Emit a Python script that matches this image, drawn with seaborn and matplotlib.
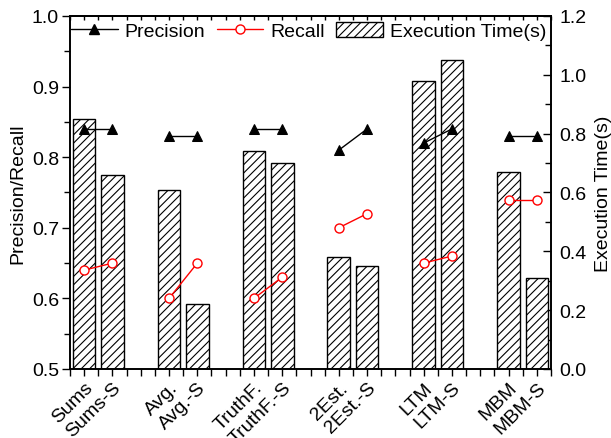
import matplotlib
matplotlib.use('Agg')
import matplotlib.pyplot as plt
import matplotlib.ticker as ticker
import matplotlib.transforms as mtransforms
from matplotlib.lines import Line2D
from matplotlib.patches import Patch
import numpy as np
import pandas as pd
import seaborn as sns

metodos = ["Sums", "Sums-S", "Avg.", "Avg.-S", "TruthF.", "TruthF.-S",
           "2Est.", "2Est.-S", "LTM", "LTM-S", "MBM", "MBM-S"]
precision = [0.84, 0.84, 0.83, 0.83, 0.84, 0.84, 0.81, 0.84, 0.82, 0.84, 0.83, 0.83]
recall = [0.64, 0.65, 0.60, 0.65, 0.60, 0.63, 0.70, 0.72, 0.65, 0.66, 0.74, 0.74]
tempo = [0.85, 0.66, 0.61, 0.22, 0.74, 0.70, 0.38, 0.35, 0.98, 1.05, 0.67, 0.31]

sns.set_style('ticks')
plt.rcParams['font.family'] = ['Liberation Sans', 'DejaVu Sans']
plt.rcParams['hatch.linewidth'] = 0.8
plt.rcParams['axes.linewidth'] = 1.2
for k in ['text.color', 'axes.labelcolor', 'xtick.color', 'ytick.color',
          'axes.edgecolor']:
    plt.rcParams[k] = 'black'

df = pd.DataFrame({'metodo': metodos, 'precision': precision,
                   'recall': recall, 'tempo': tempo})
# cada par (metodo, metodo-S) fica junto, com um espaco entre os pares
df['grupo'] = [i // 2 for i in range(len(df))]
df['pos'] = [3 * (i // 2) + i % 2 for i in range(len(df))]

fig = plt.figure(figsize=(6.11, 4.39), dpi=100)
ax = fig.add_axes([0.1146, 0.1572, 0.7872, 0.8041])
ax2 = ax.twinx()

sns.barplot(data=df, x='pos', y='tempo', native_scale=True, ax=ax2,
            color='white', saturation=1, edgecolor='black', linewidth=1,
            hatch='////', width=0.8, errorbar=None)

sns.lineplot(data=df, x='pos', y='precision', units='grupo', estimator=None,
             color='black', marker='^', markersize=7, markeredgecolor='black',
             markerfacecolor='black', linewidth=1, ax=ax, legend=False)
sns.lineplot(data=df, x='pos', y='recall', units='grupo', estimator=None,
             color='red', marker='o', markersize=6.5, markeredgecolor='red',
             markerfacecolor='white', markeredgewidth=1, linewidth=1,
             ax=ax, legend=False)

# linhas por cima das barras
ax.set_zorder(ax2.get_zorder() + 1)
ax.patch.set_visible(False)

ax.set_xlim(-0.5, 16.5)
ax.set_ylim(0.5, 1.0)
ax2.set_ylim(0, 1.2)

ticks_x = np.arange(-0.5, 16.6, 0.5)
rotulos = {p: m for p, m in zip(df.pos, df.metodo)}
labels_x = [rotulos.get(t, '') for t in ticks_x]
ax.set_xticks(ticks_x)
ax.set_xticklabels(labels_x, rotation=45, ha='right', va='center',
                   rotation_mode='anchor', fontsize=14)
ax.set_xlabel('')
ax2.set_xlabel('')

ax.yaxis.set_major_locator(ticker.MultipleLocator(0.1))
ax.yaxis.set_minor_locator(ticker.MultipleLocator(0.05))
ax2.yaxis.set_major_locator(ticker.MultipleLocator(0.2))
ax2.yaxis.set_minor_locator(ticker.MultipleLocator(0.1))
ax.yaxis.set_major_formatter(ticker.StrMethodFormatter('{x:.1f}'))
ax2.yaxis.set_major_formatter(ticker.StrMethodFormatter('{x:.1f}'))

ax.tick_params(axis='x', which='both', direction='out', length=5, width=1,
               pad=5, labelsize=14)
ax.tick_params(axis='y', which='major', direction='out', length=6, width=1,
               labelsize=14, pad=2)
ax.tick_params(axis='y', which='minor', direction='out', length=4, width=1)
ax2.tick_params(axis='y', which='major', direction='in', length=6, width=1,
                labelsize=14, pad=6)
ax2.tick_params(axis='y', which='minor', direction='in', length=4, width=1)

topo = ax.secondary_xaxis('top')
topo.set_xticks(ticks_x)
topo.tick_params(axis='x', direction='in', length=3, width=1, labeltop=False)

ax.set_ylabel('Precision/Recall', fontsize=14, labelpad=4)
ax2.set_ylabel('Execution Time(s)', fontsize=14, labelpad=6)

handles = [
    Line2D([], [], color='black', marker='^', markersize=7, linewidth=1),
    Line2D([], [], color='red', marker='o', markersize=6.5, linewidth=1,
           markerfacecolor='white', markeredgecolor='red'),
    Patch(facecolor='white', edgecolor='black', hatch='////', linewidth=1),
]
ax.legend(handles, ['Precision', 'Recall', 'Execution Time(s)'],
          loc='upper left', bbox_to_anchor=(-0.01, 1.0), ncol=3,
          frameon=False, fontsize=14, handlelength=2.4, handleheight=0.8,
          handletextpad=0.35, columnspacing=0.6, borderaxespad=0,
          borderpad=0.3)

# desloca um pouco os rotulos do eixo x para a direita, como no original
# (feito depois do tick_params, que recria as transformacoes)
desloc = mtransforms.ScaledTranslation(6 / 100, -2 / 100, fig.dpi_scale_trans)
for tk in ax.xaxis.get_major_ticks():
    tk.label1.set_transform(tk.label1.get_transform() + desloc)

fig.savefig('out.png', dpi=100)
